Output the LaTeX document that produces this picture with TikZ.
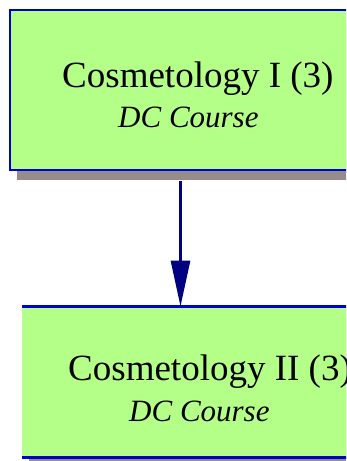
\documentclass[tikz,border=0pt]{standalone}
\usepackage{fontspec}
\setmainfont{Liberation Serif}
\usetikzlibrary{arrows.meta,shadows}
\definecolor{boxgreen}{RGB}{180,255,136}
\definecolor{boxblue}{RGB}{0,0,210}
\definecolor{arrnavy}{RGB}{0,0,128}
\definecolor{shadowgray}{RGB}{150,140,140}
\tikzset{
  coursebox/.style={rectangle, fill=boxgreen, inner sep=0pt, outer sep=0pt,
    drop shadow={shadow xshift=7pt, shadow yshift=-10pt, fill=shadowgray, opacity=1}},
  boxline/.style={draw=boxblue, line width=2.6pt},
  titletext/.style={anchor=base west, inner sep=0pt, font=\fontsize{37}{40}\selectfont},
  subtext/.style={anchor=base west, inner sep=0pt, font=\fontsize{31}{34}\selectfont\itshape},
  prereq/.style={draw=arrnavy, line width=3pt, -{Triangle[length=46pt,width=19pt]}}
}
\begin{document}
\begin{tikzpicture}[x=1pt,y=1pt]
\useasboundingbox (0,0) rectangle (346,-461);
\clip (0,0) rectangle (346,-461);
\node[coursebox, boxline, minimum width=341pt, minimum height=160pt] (c1) at (180.5,-90) {};
\node[coursebox, minimum width=338pt, minimum height=151pt] (c2) at (191,-382) {};
\draw[boxline] (c2.north west) -- (c2.north east);
\draw[boxline] (c2.south west) -- (c2.south east);
\node[titletext] (t1) at (62,-87) {Cosmetology I (3)};
\node[subtext] (s1) at (118,-127) {DC Course};
\node[titletext] (t2) at (68,-380) {Cosmetology II (3)};
\node[subtext] (s2) at (129,-421) {DC Course};
\draw[prereq] ([yshift=-11pt]c1.south) -- (c1.south |- c2.north);
\end{tikzpicture}
\end{document}
